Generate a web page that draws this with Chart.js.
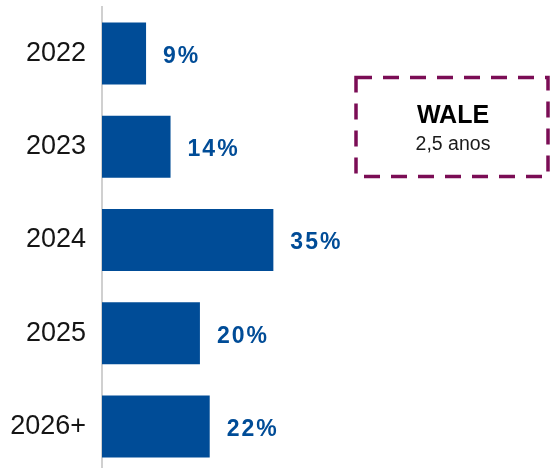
<!DOCTYPE html>
<html>
<head>
<meta charset="utf-8">
<script src="https://cdn.jsdelivr.net/npm/chart.js@4"></script>
<style>
  html, body { margin: 0; padding: 0; background: #fff; overflow: hidden; }
  #wrap { position: relative; width: 550px; height: 473px; }
</style>
</head>
<body>
<div id="wrap"><canvas id="chart"></canvas></div>
<script>
const categories = ['2022', '2023', '2024', '2025', '2026+'];
const shares = [9, 14, 35, 20, 22];
const walTitle = 'WALE';
const walValue = '2,5 anos';

const blue = '#004C97';
const fontFamily = '"Liberation Sans", Arial, sans-serif';

// percent labels to the right of each bar
const valueLabels = {
  id: 'valueLabels',
  afterDatasetsDraw(chart) {
    const ctx = chart.ctx;
    const meta = chart.getDatasetMeta(0);
    ctx.save();
    ctx.fillStyle = blue;
    ctx.font = 'bold 23px ' + fontFamily;
    ctx.textBaseline = 'middle';
    ctx.textAlign = 'left';
    if ('letterSpacing' in ctx) ctx.letterSpacing = '2px';
    meta.data.forEach(function (bar, i) {
      ctx.fillText(shares[i] + '%', bar.x + 17, bar.y + 3);
    });
    ctx.restore();
  }
};

// dashed WALE box
const waleBox = {
  id: 'waleBox',
  afterDraw(chart) {
    const ctx = chart.ctx;
    ctx.save();
    ctx.strokeStyle = '#7B0D55';
    ctx.lineWidth = 3.5;
    ctx.setLineDash([16, 11]);
    ctx.strokeRect(356, 77.5, 192, 99);
    ctx.setLineDash([]);
    ctx.fillStyle = '#000';
    ctx.textAlign = 'center';
    ctx.textBaseline = 'middle';
    ctx.font = 'bold 25px ' + fontFamily;
    ctx.fillText(walTitle, 453, 116);
    ctx.fillStyle = '#1a1a1a';
    ctx.font = '19.5px ' + fontFamily;
    ctx.fillText(walValue, 453, 145);
    ctx.restore();
  }
};

new Chart(document.getElementById('chart'), {
  type: 'bar',
  data: {
    labels: categories,
    datasets: [{ data: shares, backgroundColor: blue, barPercentage: 0.665, categoryPercentage: 1 }]
  },
  options: {
    indexAxis: 'y',
    responsive: true,
    maintainAspectRatio: false,
    animation: false,
    layout: { padding: { top: 7, right: 0, bottom: 0, left: 0 } },
    plugins: { legend: { display: false }, tooltip: { enabled: false } },
    scales: {
      x: { display: false, min: 0, max: 91.5 },
      y: {
        grid: { display: false, drawTicks: false },
        border: { display: true, color: '#d0d0d0', width: 2 },
        ticks: {
          color: '#151515',
          padding: 16,
          font: { family: fontFamily, size: 27 }
        },
        afterFit(scale) {
          scale.width = 102;
          scale.paddingTop = 0;
          scale.paddingBottom = 0;
        }
      }
    }
  },
  plugins: [valueLabels, waleBox]
});
</script>
</body>
</html>
